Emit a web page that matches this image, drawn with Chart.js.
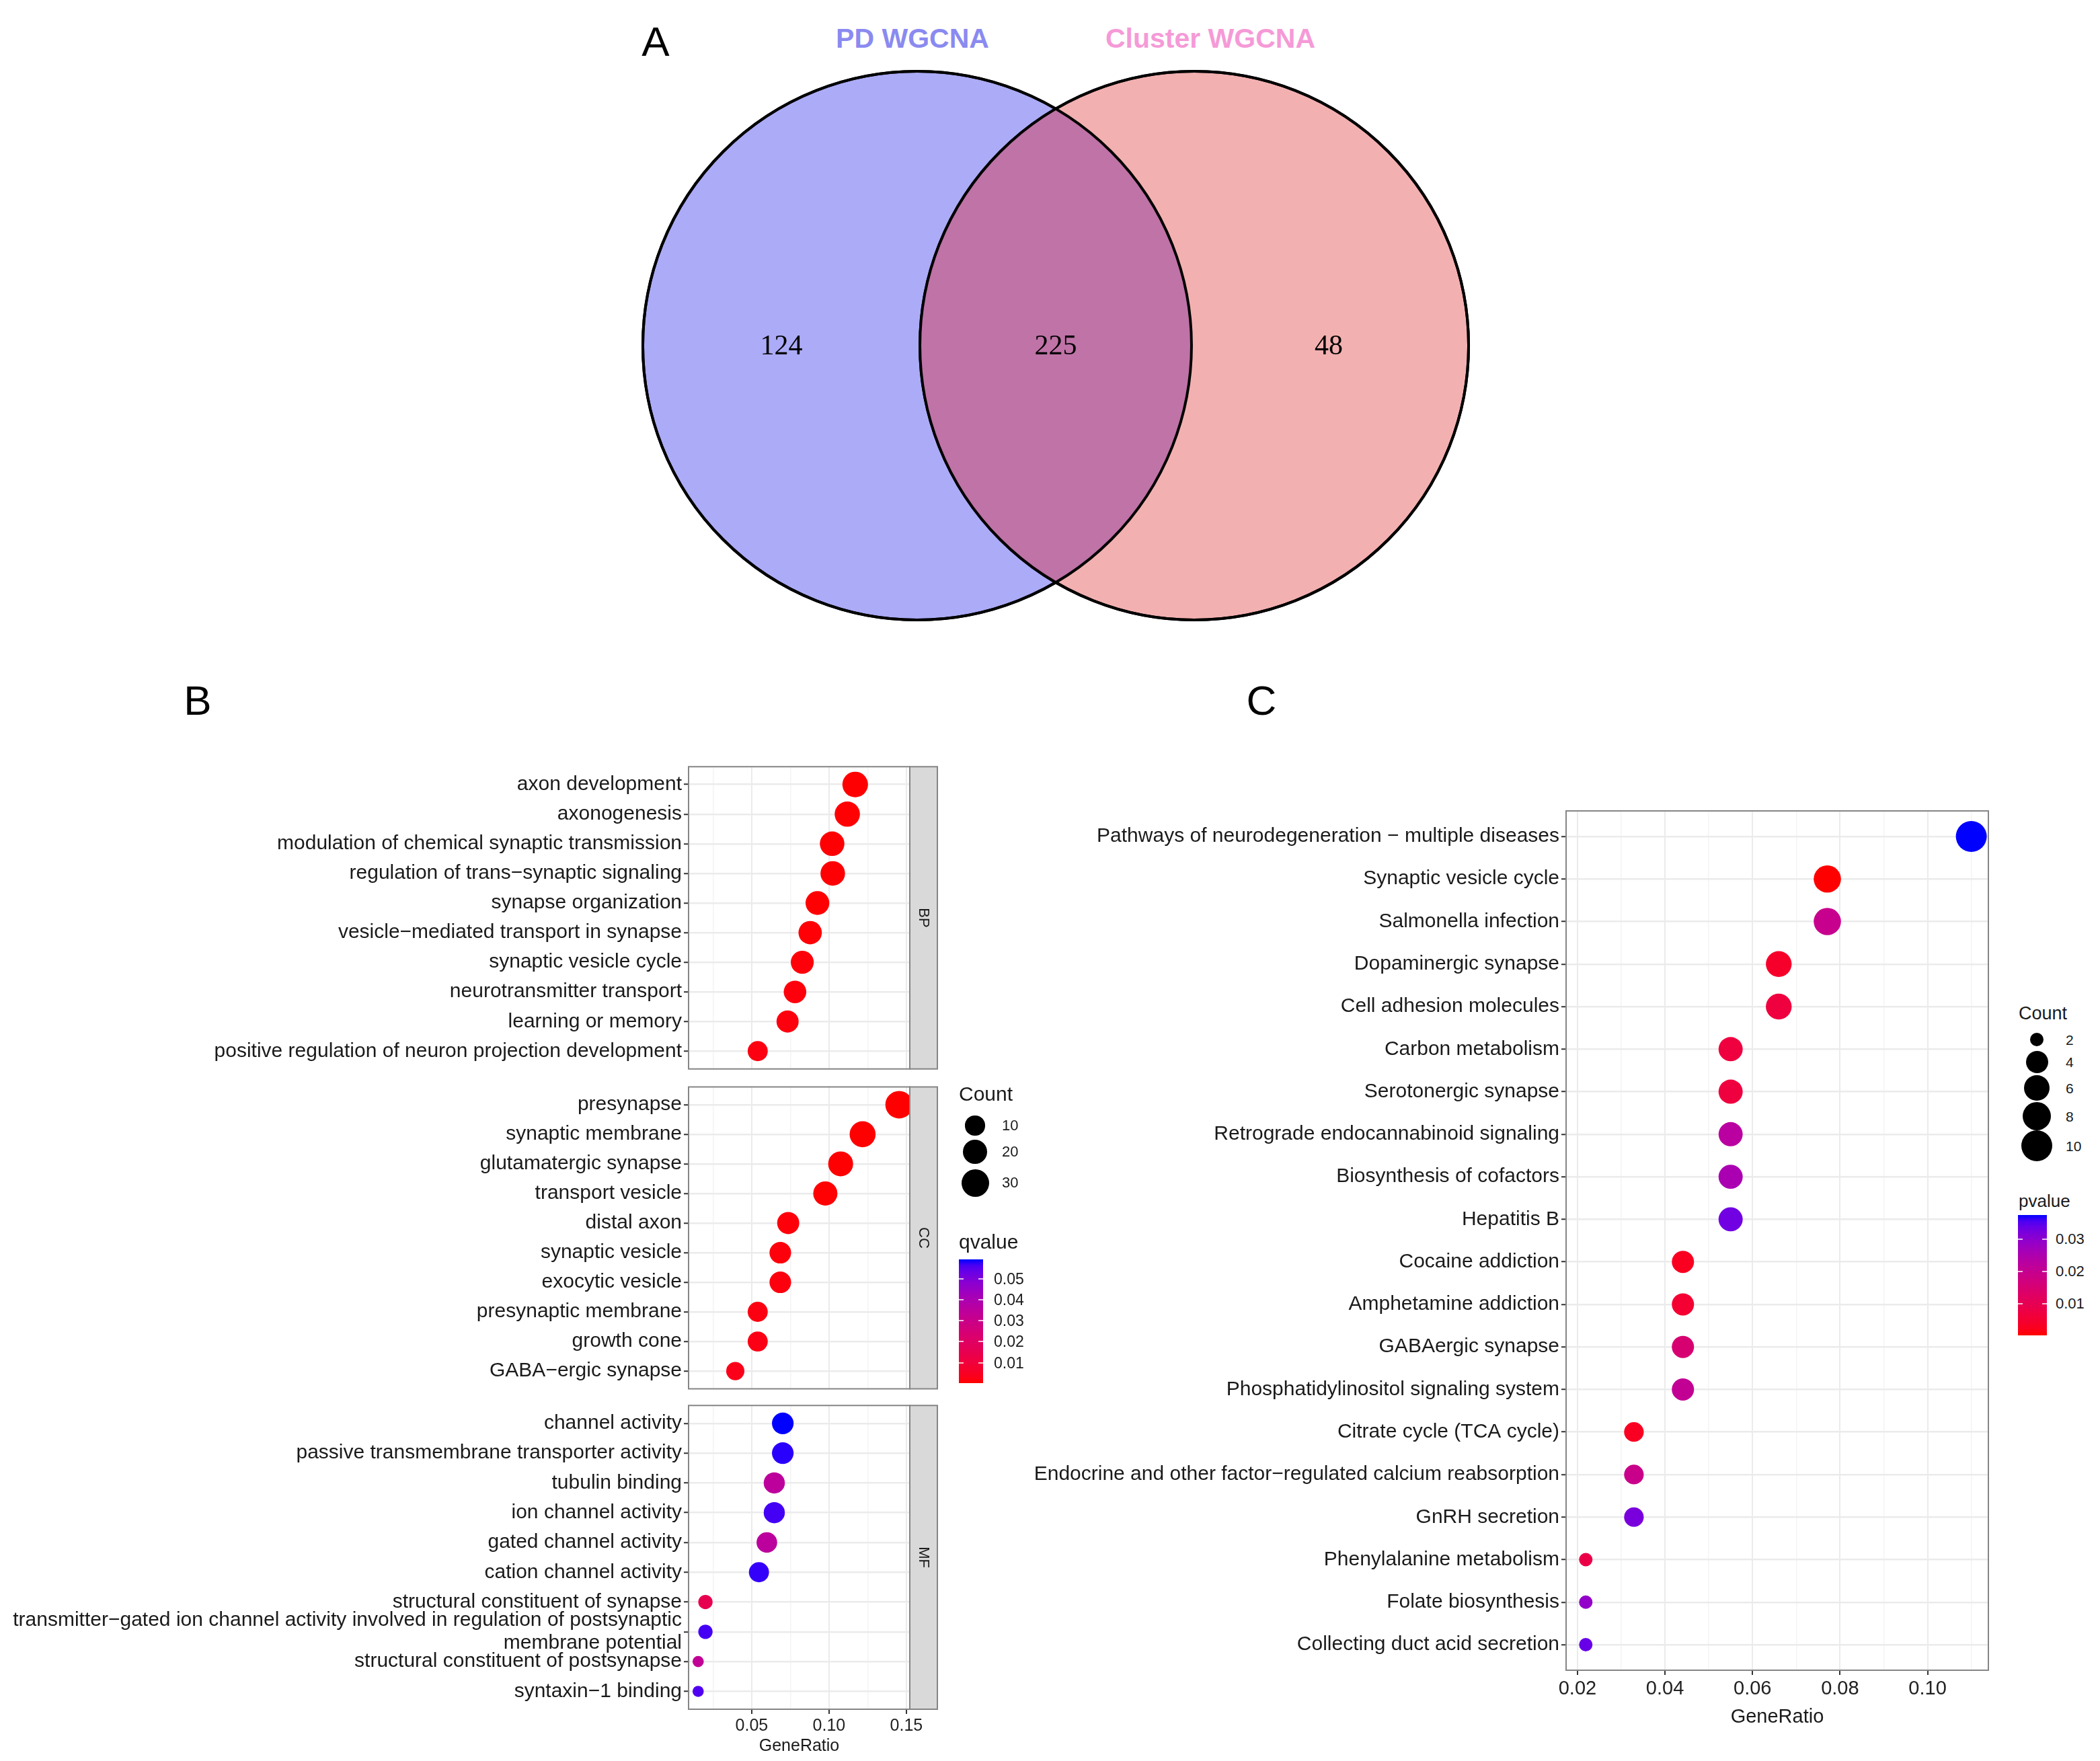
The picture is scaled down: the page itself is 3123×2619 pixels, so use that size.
<!DOCTYPE html>
<html lang="en">
<head>
<meta charset="UTF-8">
<title>PD WGCNA overlap and enrichment</title>
<script src="https://cdn.jsdelivr.net/npm/chart.js"></script>
<style>
  html, body { margin: 0; padding: 0; background: #fff; }
  body {
    width: 3123px; height: 2619px; position: relative; overflow: hidden;
    font-family: "Liberation Sans", Arial, sans-serif;
  }
  canvas { position: absolute; }
  .txt { position: absolute; line-height: 1; white-space: nowrap; transform: translateY(-50%); color: #1a1a1a; }
  .letter { position: absolute; font-size: 62px; line-height: 1; transform: translate(-50%, -50%); color: #000; }
  .vtitle { position: absolute; font-size: 41px; font-weight: bold; line-height: 1; transform: translate(-50%, -50%); white-space: nowrap; }
  .dot { position: absolute; border-radius: 50%; background: #000; }
  .bar { position: absolute; }
  .tk { position: absolute; height: 2px; width: 7px; background: rgba(255,255,255,0.75); }
</style>
</head>
<body>
<div class="letter" style="left:975px; top:62px;">A</div>
<div class="letter" style="left:294px; top:1042px;">B</div>
<div class="letter" style="left:1876px; top:1042px;">C</div>

<script>
// ---------- data ----------
const vennSets = ['PD WGCNA', 'Cluster WGCNA'];
const vennCounts = [124, 225, 48];   // PD only, both, Cluster only

const bpTerms = ['axon development', 'axonogenesis', 'modulation of chemical synaptic transmission',
  'regulation of trans−synaptic signaling', 'synapse organization', 'vesicle−mediated transport in synapse',
  'synaptic vesicle cycle', 'neurotransmitter transport', 'learning or memory',
  'positive regulation of neuron projection development'];
const bpRatio = [0.1169, 0.1118, 0.1020, 0.1024, 0.0925, 0.0878, 0.0827, 0.0780, 0.0732, 0.0539];
const bpCount = [24, 23, 21, 21, 19, 18, 17, 16, 15, 11];
const bpQ = [0.0004, 0.0005, 0.0006, 0.0006, 0.0004, 0.0008, 0.0010, 0.0012, 0.0015, 0.0020];

const ccTerms = ['presynapse', 'synaptic membrane', 'glutamatergic synapse', 'transport vesicle', 'distal axon',
  'synaptic vesicle', 'exocytic vesicle', 'presynaptic membrane', 'growth cone', 'GABA−ergic synapse'];
const ccRatio = [0.1453, 0.1217, 0.1075, 0.0976, 0.0736, 0.0685, 0.0685, 0.0539, 0.0539, 0.0394];
const ccCount = [30, 25, 22, 20, 15, 14, 14, 11, 11, 8];
const ccQ = [0.0002, 0.0003, 0.0004, 0.0005, 0.0010, 0.0012, 0.0015, 0.0020, 0.0025, 0.0030];

const mfTerms = ['channel activity', 'passive transmembrane transporter activity', 'tubulin binding',
  'ion channel activity', 'gated channel activity', 'cation channel activity', 'structural constituent of synapse',
  'transmitter−gated ion channel activity involved in regulation of postsynaptic\nmembrane potential',
  'structural constituent of postsynapse', 'syntaxin−1 binding'];
const mfRatio = [0.0701, 0.0701, 0.0646, 0.0646, 0.0598, 0.0547, 0.0201, 0.0201, 0.0154, 0.0154];
const mfCount = [14, 14, 13, 13, 12, 11, 4, 4, 3, 3];
const mfQ = [0.0594, 0.0585, 0.0345, 0.0570, 0.0350, 0.0580, 0.0150, 0.0570, 0.0330, 0.0560];

const keggTerms = ['Pathways of neurodegeneration − multiple diseases', 'Synaptic vesicle cycle', 'Salmonella infection',
  'Dopaminergic synapse', 'Cell adhesion molecules', 'Carbon metabolism', 'Serotonergic synapse',
  'Retrograde endocannabinoid signaling', 'Biosynthesis of cofactors', 'Hepatitis B', 'Cocaine addiction',
  'Amphetamine addiction', 'GABAergic synapse', 'Phosphatidylinositol signaling system', 'Citrate cycle (TCA cycle)',
  'Endocrine and other factor−regulated calcium reabsorption', 'GnRH secretion', 'Phenylalanine metabolism',
  'Folate biosynthesis', 'Collecting duct acid secretion'];
const keggRatio = [0.1100, 0.0771, 0.0771, 0.0660, 0.0660, 0.0550, 0.0550, 0.0550, 0.0550, 0.0550,
  0.0441, 0.0441, 0.0441, 0.0441, 0.0329, 0.0329, 0.0329, 0.0219, 0.0219, 0.0219];
const keggCount = [10, 7, 7, 6, 6, 5, 5, 5, 5, 5, 4, 4, 4, 4, 3, 3, 3, 2, 2, 2];
const keggP = [0.0375, 0.0002, 0.0196, 0.0040, 0.0070, 0.0070, 0.0070, 0.0226, 0.0256, 0.0330,
  0.0028, 0.0050, 0.0150, 0.0207, 0.0030, 0.0190, 0.0323, 0.0084, 0.0293, 0.0338];

const ratioTicksB = [0.05, 0.10, 0.15];
const ratioTicksC = [0.02, 0.04, 0.06, 0.08, 0.10];
const countBreaksB = [10, 20, 30];
const qBreaks = [0.01, 0.02, 0.03, 0.04, 0.05];
const countBreaksC = [2, 4, 6, 8, 10];
const pBreaks = [0.01, 0.02, 0.03];

// ---------- helpers ----------
const FONT = '"Liberation Sans", Arial, sans-serif';
Chart.defaults.font.family = FONT;

function lin(c) { c /= 255; return c <= 0.04045 ? c / 12.92 : Math.pow((c + 0.055) / 1.055, 2.4); }
function toLab(rgb) {
  const [r, g, b] = rgb.map(lin);
  const f = t => t > 0.008856 ? Math.cbrt(t) : 7.787 * t + 16 / 116;
  const x = f((0.4124 * r + 0.3576 * g + 0.1805 * b) / 0.95047);
  const y = f(0.2126 * r + 0.7152 * g + 0.0722 * b);
  const z = f((0.0193 * r + 0.1192 * g + 0.9505 * b) / 1.08883);
  return [116 * y - 16, 500 * (x - y), 200 * (y - z)];
}
function fromLab([L, A, B]) {
  let y = (L + 16) / 116, x = A / 500 + y, z = y - B / 200;
  const fi = t => t * t * t > 0.008856 ? t * t * t : (t - 16 / 116) / 7.787;
  x = fi(x) * 0.95047; y = fi(y); z = fi(z) * 1.08883;
  const gam = c => {
    c = c <= 0.0031308 ? 12.92 * c : 1.055 * Math.pow(c, 1 / 2.4) - 0.055;
    return Math.round(Math.max(0, Math.min(1, c)) * 255);
  };
  return `rgb(${gam(3.2406 * x - 1.5372 * y - 0.4986 * z)},${gam(-0.9689 * x + 1.8758 * y + 0.0415 * z)},${gam(0.0557 * x - 0.2040 * y + 1.0570 * z)})`;
}
const LAB_RED = toLab([255, 0, 0]), LAB_BLUE = toLab([0, 0, 255]);
function redBlue(t) {
  t = Math.max(0, Math.min(1, t));
  return fromLab(LAB_RED.map((v, i) => v + (LAB_BLUE[i] - v) * t));
}

function makeCanvas(left, top, w, h) {
  const c = document.createElement('canvas');
  c.width = w; c.height = h;
  c.style.left = left + 'px'; c.style.top = top + 'px';
  c.style.width = w + 'px'; c.style.height = h + 'px';
  document.body.appendChild(c);
  return c;
}
function addText(text, left, cy, size, extra) {
  const d = document.createElement('div');
  d.className = 'txt';
  d.textContent = text;
  d.style.left = left + 'px'; d.style.top = cy + 'px'; d.style.fontSize = size + 'px';
  if (extra) Object.assign(d.style, extra);
  document.body.appendChild(d);
  return d;
}

// ---------- panel A: venn ----------
const VENN = { left: 900, top: 0, w: 1350, h: 950, unit: 408, cx0: 670, cy0: 514 };
const vennCenters = [-0.505, 0.505];
const vennLabelX = [-1.0, 0, 0.995];
const vennFill = ['#ABABF7', '#F3B0B0'];
const vennLens = '#BF73A7';
const vennTitlePos = [[1357, 57, '#8A8AF0'], [1800, 57, '#F59AD7']];

vennSets.forEach((s, i) => {
  const d = document.createElement('div');
  d.className = 'vtitle';
  d.textContent = s;
  d.style.left = vennTitlePos[i][0] + 'px';
  d.style.top = vennTitlePos[i][1] + 'px';
  d.style.color = vennTitlePos[i][2];
  document.body.appendChild(d);
});

const vennPlugin = {
  id: 'vennPlugin',
  afterDatasetsDraw(chart) {
    const { ctx } = chart;
    const pts = chart.getDatasetMeta(0).data;
    const [a, b] = pts;
    ctx.save();
    ctx.beginPath(); ctx.arc(a.x, a.y, a.options.radius, 0, Math.PI * 2); ctx.clip();
    ctx.beginPath(); ctx.arc(b.x, b.y, b.options.radius, 0, Math.PI * 2);
    ctx.fillStyle = vennLens; ctx.fill();
    ctx.restore();
    ctx.save();
    ctx.lineWidth = 4; ctx.strokeStyle = '#000';
    pts.forEach(p => { ctx.beginPath(); ctx.arc(p.x, p.y, p.options.radius, 0, Math.PI * 2); ctx.stroke(); });
    ctx.font = '42px "Liberation Serif", "Times New Roman", serif';
    ctx.textAlign = 'center'; ctx.textBaseline = 'middle'; ctx.fillStyle = '#000';
    const xs = chart.scales.x, ys = chart.scales.y;
    vennCounts.forEach((n, i) => ctx.fillText(String(n), xs.getPixelForValue(vennLabelX[i]), ys.getPixelForValue(0) + 2));
    ctx.restore();
  }
};

new Chart(makeCanvas(VENN.left, VENN.top, VENN.w, VENN.h), {
  type: 'scatter',
  data: {
    datasets: [{
      data: vennCenters.map(x => ({ x: x, y: 0 })),
      pointRadius: c => c.chart.scales.x.getPixelForValue(1) - c.chart.scales.x.getPixelForValue(0),
      pointHoverRadius: c => c.chart.scales.x.getPixelForValue(1) - c.chart.scales.x.getPixelForValue(0),
      backgroundColor: vennFill,
      borderColor: '#000',
      borderWidth: 4,
      clip: false
    }]
  },
  options: {
    responsive: false, animation: false, devicePixelRatio: 1,
    layout: { padding: 0 },
    plugins: { legend: { display: false }, tooltip: { enabled: false } },
    scales: {
      x: { display: false, min: -VENN.cx0 / VENN.unit, max: (VENN.w - VENN.cx0) / VENN.unit },
      y: { display: false, min: -(VENN.h - VENN.cy0) / VENN.unit, max: VENN.cy0 / VENN.unit }
    }
  },
  plugins: [vennPlugin]
});

// ---------- dot plots ----------
const panelFrame = {
  id: 'panelFrame',
  afterDatasetsDraw(chart, args, opts) {
    const { ctx, chartArea: a } = chart;
    ctx.save();
    ctx.strokeStyle = '#858585'; ctx.lineWidth = 2;
    ctx.strokeRect(a.left, a.top, a.right - a.left, a.bottom - a.top);
    if (opts.strip) {
      const w = 41;
      ctx.fillStyle = '#D9D9D9';
      ctx.fillRect(a.right, a.top, w, a.bottom - a.top);
      ctx.strokeRect(a.right, a.top, w, a.bottom - a.top);
      ctx.translate(a.right + w / 2, (a.top + a.bottom) / 2);
      ctx.rotate(Math.PI / 2);
      ctx.fillStyle = '#1A1A1A'; ctx.font = `22px ${FONT}`;
      ctx.textAlign = 'center'; ctx.textBaseline = 'middle';
      ctx.fillText(opts.strip, 0, 0);
    }
    ctx.restore();
  }
};

function dotChart(box, cfg) {
  const n = cfg.terms.length;
  const step = cfg.major[1] - cfg.major[0];
  const gridVals = [];
  cfg.major.forEach(m => { gridVals.push(m); gridVals.push(m + step / 2); gridVals.push(m - step / 2); });
  const grid = [...new Set(gridVals.map(v => +v.toFixed(6)))].filter(v => v > cfg.xMin && v < cfg.xMax).sort((p, q) => p - q);
  const isMajor = v => cfg.major.some(m => Math.abs(m - v) < 1e-9);
  const showX = !!cfg.xHeight;

  return new Chart(makeCanvas(box.left, box.top, box.w, box.h), {
    type: 'scatter',
    data: {
      datasets: [{
        data: cfg.ratio.map((r, i) => ({ x: r, y: i })),
        pointRadius: c => cfg.size(cfg.count[c.dataIndex]) / 2,
        pointHoverRadius: c => cfg.size(cfg.count[c.dataIndex]) / 2,
        backgroundColor: c => cfg.color(cfg.colorVal[c.dataIndex]),
        borderWidth: 0,
        clip: 0
      }]
    },
    options: {
      responsive: false, animation: false, devicePixelRatio: 1,
      layout: { padding: box.pad },
      plugins: { legend: { display: false }, tooltip: { enabled: false }, panelFrame: { strip: cfg.strip } },
      scales: {
        x: {
          type: 'linear', min: cfg.xMin, max: cfg.xMax,
          afterBuildTicks: s => { s.ticks = grid.map(v => ({ value: v })); },
          afterFit: s => { s.height = cfg.xHeight || 0; },
          border: { display: false },
          grid: {
            color: c => isMajor(c.tick.value) ? '#EBEBEB' : '#F4F4F4',
            lineWidth: c => isMajor(c.tick.value) ? 2 : 1.5,
            drawTicks: showX, tickLength: 7, tickWidth: 2,
            tickColor: c => isMajor(c.tick.value) ? '#333' : 'rgba(0,0,0,0)'
          },
          ticks: {
            display: showX, autoSkip: false, maxRotation: 0, padding: cfg.xTickPad || 3,
            font: { size: cfg.xFont }, color: '#222',
            callback: v => isMajor(v) ? v.toFixed(2) : ''
          },
          title: {
            display: showX, text: 'GeneRatio', color: '#1a1a1a',
            font: { size: cfg.xFont }, padding: { top: cfg.titlePad || 0, bottom: 0 }
          }
        },
        y: {
          type: 'linear', reverse: true, min: -0.6, max: n - 1 + 0.6,
          afterBuildTicks: s => { s.ticks = cfg.terms.map((t, i) => ({ value: i })); },
          afterFit: s => { s.width = cfg.yWidth; },
          border: { display: false },
          grid: { color: '#EBEBEB', lineWidth: 2.5, tickLength: 7, tickWidth: 2, tickColor: '#333' },
          ticks: {
            autoSkip: false, padding: 3, font: { size: 30, lineHeight: 1.15 }, color: '#1a1a1a',
            callback: v => cfg.terms[Math.round(v)].split('\n')
          }
        }
      }
    },
    plugins: [panelFrame]
  });
}

// panel B
const bCountAll = bpCount.concat(ccCount, mfCount);
const bQAll = bpQ.concat(ccQ, mfQ);
const bCmin = Math.min(...bCountAll), bCmax = Math.max(...bCountAll);
const bQmin = Math.min(...bQAll), bQmax = Math.max(...bQAll);
const sizeB = c => 16.6 + 24.4 * Math.sqrt((c - bCmin) / (bCmax - bCmin));
const colorB = q => redBlue((q - bQmin) / (bQmax - bQmin));
const bX = { xMin: 0.0092, xMax: 0.1522, major: ratioTicksB, xFont: 25, yWidth: 1024, size: sizeB, color: colorB };

dotChart({ left: 0, top: 1120, w: 1400, h: 490, pad: { left: 0, top: 15, right: 47, bottom: 16 } },
  Object.assign({ terms: bpTerms, ratio: bpRatio, count: bpCount, colorVal: bpQ, strip: 'BP' }, bX));
dotChart({ left: 0, top: 1596, w: 1400, h: 490, pad: { left: 0, top: 14, right: 47, bottom: 18 } },
  Object.assign({ terms: ccTerms, ratio: ccRatio, count: ccCount, colorVal: ccQ, strip: 'CC' }, bX));
dotChart({ left: 0, top: 2070, w: 1400, h: 549, pad: { left: 0, top: 14, right: 47, bottom: 7 } },
  Object.assign({ terms: mfTerms, ratio: mfRatio, count: mfCount, colorVal: mfQ, strip: 'MF', xHeight: 70 }, bX));

// panel C
const cCmin = Math.min(...keggCount), cCmax = Math.max(...keggCount);
const cPmin = Math.min(...keggP), cPmax = Math.max(...keggP);
const sizeC = c => 20 + 26 * Math.sqrt((c - cCmin) / (cCmax - cCmin));
const colorC = p => redBlue((p - cPmin) / (cPmax - cPmin));

dotChart({ left: 1500, top: 1150, w: 1480, h: 1469, pad: { left: 0, top: 56, right: 12, bottom: 48 } },
  { terms: keggTerms, ratio: keggRatio, count: keggCount, colorVal: keggP, size: sizeC, color: colorC,
    xMin: 0.0174, xMax: 0.1139, major: ratioTicksC, xFont: 29, xTickPad: 4, titlePad: 6, xHeight: 87, yWidth: 829 });

// ---------- legends ----------
function sizeLegend(L, breaks, sizeFn) {
  addText('Count', L.left, L.titleY, L.titleFont);
  breaks.forEach((b, i) => {
    const d = sizeFn(b);
    const dot = document.createElement('div');
    dot.className = 'dot';
    Object.assign(dot.style, { left: (L.cx - d / 2) + 'px', top: (L.rows[i] - d / 2) + 'px', width: d + 'px', height: d + 'px' });
    document.body.appendChild(dot);
    addText(String(b), L.labelX, L.rows[i], L.labelFont);
  });
}
function colorLegend(L, title, breaks, vmin, vmax) {
  addText(title, L.left, L.titleY, L.titleFont);
  const stops = [];
  for (let k = 0; k <= 20; k++) stops.push(`${redBlue(k / 20)} ${k * 5}%`);
  const bar = document.createElement('div');
  bar.className = 'bar';
  Object.assign(bar.style, {
    left: L.barX + 'px', top: L.barTop + 'px', width: L.barW + 'px', height: (L.barBottom - L.barTop) + 'px',
    background: `linear-gradient(to top, ${stops.join(', ')})`
  });
  document.body.appendChild(bar);
  breaks.forEach(b => {
    const y = L.barBottom - (b - vmin) / (vmax - vmin) * (L.barBottom - L.barTop);
    [L.barX, L.barX + L.barW - 7].forEach(x => {
      const t = document.createElement('div');
      t.className = 'tk';
      Object.assign(t.style, { left: x + 'px', top: (y - 1) + 'px' });
      document.body.appendChild(t);
    });
    addText(b.toFixed(2), L.labelX, y, L.labelFont);
  });
}

sizeLegend({ left: 1426, titleY: 1627, titleFont: 30, cx: 1450, rows: [1674, 1713, 1759], labelX: 1490, labelFont: 22 },
  countBreaksB, sizeB);
colorLegend({ left: 1426, titleY: 1847, titleFont: 30, barX: 1426, barW: 36, barTop: 1873, barBottom: 2057, labelX: 1478, labelFont: 23 },
  'qvalue', qBreaks, bQmin, bQmax);
sizeLegend({ left: 3002, titleY: 1507, titleFont: 27, cx: 3029, rows: [1546, 1579, 1618, 1660, 1704], labelX: 3072, labelFont: 21 },
  countBreaksC, sizeC);
colorLegend({ left: 3002, titleY: 1786, titleFont: 26, barX: 3001, barW: 43, barTop: 1807, barBottom: 1986, labelX: 3057, labelFont: 22 },
  'pvalue', pBreaks, cPmin, cPmax);
</script>
</body>
</html>
